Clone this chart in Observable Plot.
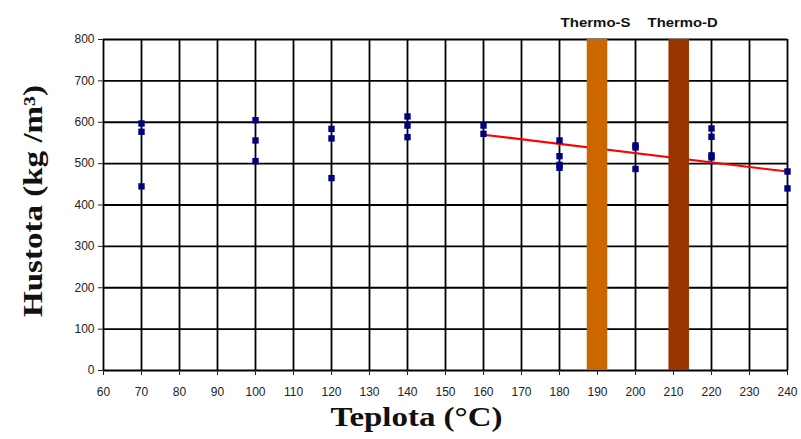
<!DOCTYPE html>
<html>
<head>
<meta charset="utf-8">
<script src="https://cdn.jsdelivr.net/npm/d3@7"></script>
<script src="https://cdn.jsdelivr.net/npm/@observablehq/plot@0.6"></script>
<style>
  body { margin: 0; background: #fff; }
  #chart { width: 801px; height: 439px; }
</style>
</head>
<body>
<div id="chart"></div>
<script>
// Data
const tempX = [70, 70, 70, 100, 100, 100, 120, 120, 120, 140, 140, 140, 160, 160,
               180, 180, 180, 180, 200, 200, 200, 220, 220, 220, 220, 240, 240];
const density = [597, 577, 445, 605, 556, 506, 584, 561, 465, 614, 592, 564, 592, 572,
                 556, 518, 497, 490, 544, 539, 487, 585, 565, 520, 515, 481, 440];
const trendX = [160, 240];
const trendY = [570, 481];
const thermoNames = ["Thermo-S", "Thermo-D"];
const thermoCenter = [190, 211.5];
const thermoLabelX = [189.5, 212.4];
const thermoHalfWidth = 2.7;
const thermoColors = ["#CC6600", "#993300"];
const xTicks = d3.range(60, 241, 10);
const yTicks = d3.range(0, 801, 100);

const points = tempX.map((x, i) => ({x, y: density[i]}));
const trend = trendX.map((x, i) => ({x, y: trendY[i]}));
const thermo = thermoNames.map((name, i) => ({
  name, x1: thermoCenter[i] - thermoHalfWidth, x2: thermoCenter[i] + thermoHalfWidth,
  color: thermoColors[i], label: thermoLabelX[i]
}));

const chart = Plot.plot({
  width: 801,
  height: 439,
  marginLeft: 103,
  marginRight: 14,
  marginTop: 39,
  marginBottom: 69,
  style: {fontFamily: "Liberation Sans, Arial, sans-serif", background: "#fff"},
  x: {domain: [60, 240], ticks: xTicks},
  y: {domain: [0, 800], ticks: yTicks},
  marks: [
    Plot.ruleX(xTicks, {stroke: "#000", strokeWidth: 1.8}),
    Plot.ruleY(yTicks, {stroke: "#000", strokeWidth: 1.8}),
    Plot.line(trend, {x: "x", y: "y", stroke: "#ff0000", strokeWidth: 2}),
    Plot.rect(thermo, {x1: "x1", x2: "x2", y1: 0, y2: 800, fill: d => d.color}),
    Plot.dot(points, {x: "x", y: "y", symbol: "square", r: 3.6, fill: "#000080", stroke: "none"}),
    Plot.axisX({ticks: xTicks, tickSize: 5, tickPadding: 12, tickFormat: d => String(d),
      fontSize: 12, color: "#222", label: null}),
    Plot.axisY({ticks: yTicks, tickSize: 5, tickPadding: 4, tickFormat: d => String(d),
      fontSize: 12, color: "#222", label: null}),
    Plot.text(thermo, {x: "label", y: 800, text: "name", dy: -17,
      fontSize: 13, fontWeight: "bold", fill: "#111", className: "tlab",
      fontFamily: "Liberation Sans Narrow, Arial Narrow, Liberation Sans, sans-serif"}),
    Plot.text(["Hustota (kg /m³)"], {frameAnchor: "left", textAnchor: "middle", dx: -70, dy: -4, rotate: -90,
      text: d => d, fontSize: 27, fontWeight: "bold", fill: "#111", className: "ylab",
      fontFamily: "Liberation Serif, Times New Roman, serif"}),
    Plot.text(["Teplota (°C)"], {frameAnchor: "bottom", dx: -29, dy: 55,
      text: d => d, fontSize: 27, fontWeight: "bold", fill: "#111", className: "xlab",
      fontFamily: "Liberation Serif, Times New Roman, serif"})
  ]
});
document.getElementById("chart").appendChild(chart);
// stretch titles like the reference
d3.select(chart).selectAll(".ylab text").attr("textLength", 232).attr("lengthAdjust", "spacingAndGlyphs");
d3.select(chart).selectAll(".xlab text").attr("textLength", 172).attr("lengthAdjust", "spacingAndGlyphs");
d3.select(chart).selectAll(".tlab text").attr("textLength", 70).attr("lengthAdjust", "spacingAndGlyphs");
</script>
</body>
</html>
